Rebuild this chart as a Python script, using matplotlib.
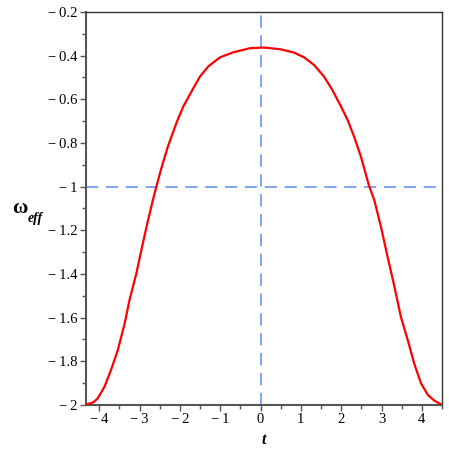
import matplotlib
matplotlib.use("Agg")
import matplotlib.pyplot as plt
from matplotlib.ticker import MultipleLocator

# values
t_vals = [-4.33, -4.29, -4.15, -4.04, -3.87, -3.71, -3.54, -3.37, -3.25, -3.08,
          -2.92, -2.79, -2.67, -2.60, -2.46, -2.30, -2.09, -1.92, -1.67, -1.50,
          -1.30, -1.01, -0.68, -0.27, 0.05, 0.15, 0.50, 0.83, 1.08, 1.33,
          1.575, 1.78, 1.99, 2.16, 2.32, 2.49, 2.69, 2.82, 2.985, 3.15,
          3.32, 3.48, 3.65, 3.81, 3.98, 4.15, 4.31, 4.5]
w_eff = [-2.0, -1.996, -1.988, -1.97, -1.916, -1.84, -1.748, -1.626, -1.519, -1.397,
         -1.26, -1.153, -1.061, -1.01, -0.915, -0.817, -0.71, -0.634, -0.55, -0.495,
         -0.45, -0.408, -0.385, -0.366, -0.363, -0.364, -0.371, -0.386, -0.408, -0.443,
         -0.496, -0.557, -0.631, -0.695, -0.771, -0.863, -0.996, -1.061, -1.183, -1.321,
         -1.458, -1.596, -1.702, -1.81, -1.901, -1.954, -1.98, -2.0]

x_ticks = [-4, -3, -2, -1, 0, 1, 2, 3, 4]
y_ticks = [-2, -1.8, -1.6, -1.4, -1.2, -1, -0.8, -0.6, -0.4, -0.2]


def fmt(v):
    s = "%g" % abs(v)
    return ("\u2212\u2009" + s) if v < 0 else s


plt.rcParams['font.family'] = ['Liberation Serif', 'DejaVu Serif']

fig = plt.figure(figsize=(4.49, 4.49), dpi=100)
ax = fig.add_axes([0.1915, 0.098, 0.7929, 0.8753])

ax.plot(t_vals, w_eff, color="red", lw=1.6, zorder=3)
ax.axhline(-1, color="#5b8cf0", lw=1.1, dashes=(8, 5), zorder=2)
ax.axvline(0, color="#5b8cf0", lw=1.1, dashes=(8, 5), zorder=2)

ax.set_xlim(-4.33, 4.5)
ax.set_ylim(-2, -0.2)
ax.set_xticks(x_ticks)
ax.set_yticks(y_ticks)
ax.set_xticklabels([fmt(v) for v in x_ticks])
ax.set_yticklabels([fmt(v) for v in y_ticks])
ax.xaxis.set_minor_locator(MultipleLocator(0.5))
ax.yaxis.set_minor_locator(MultipleLocator(0.1))
ax.tick_params(which="major", direction="out", length=4, width=1, labelsize=10.5,
               color="#555555", pad=2)
ax.tick_params(which="minor", direction="out", length=3, width=1, color="#555555")

for side in ["left", "bottom"]:
    ax.spines[side].set_color("#555555")
    ax.spines[side].set_linewidth(1.5)
for side in ["top", "right"]:
    ax.spines[side].set_color("#333333")
    ax.spines[side].set_linewidth(1.0)

ax.set_xlabel("t", fontsize=11.5, fontweight="bold", fontstyle="italic", labelpad=4)
fig.text(0.045, 0.537, "\u03c9", fontsize=15, fontweight="bold", ha="center", va="center")
fig.text(0.062, 0.513, "eff", fontsize=10, fontweight="bold", fontstyle="italic",
         ha="left", va="center")

plt.savefig("out.png", dpi=100)
